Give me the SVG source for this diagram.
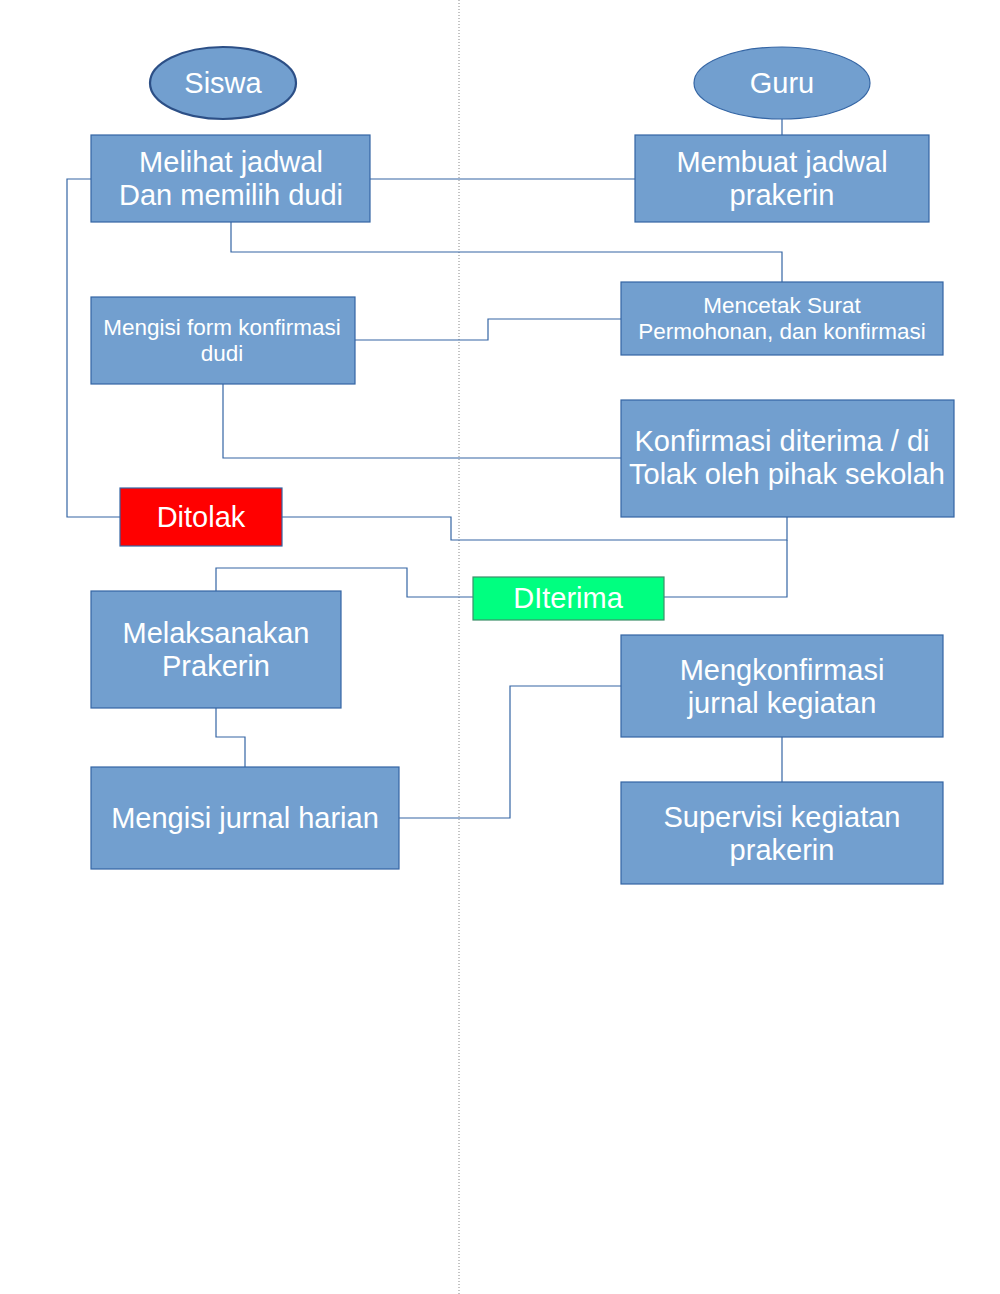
<svg xmlns="http://www.w3.org/2000/svg" width="1000" height="1294" viewBox="0 0 1000 1294">
<style>
.box{fill:#729fcf;stroke:#3465a4;stroke-width:1.2}
.t{font-family:"Liberation Sans",Arial,sans-serif;fill:#fff;text-anchor:middle;font-size:29px}
.s{font-size:22.5px}
.c{fill:none;stroke:#3465a4;stroke-width:1.2}
</style>
<rect width="1000" height="1294" fill="#fff"/>
<line x1="459" y1="0" x2="459" y2="1294" stroke="#888" stroke-width="1" stroke-dasharray="1,2"/>
<g id="connectors">
<path class="c" d="M782,119 V135"/>
<path class="c" d="M370,179 H635"/>
<path class="c" d="M231,222 V252 H782 V282"/>
<path class="c" d="M355,340 H488 V319 H621"/>
<path class="c" d="M223,384 V458 H621"/>
<path class="c" d="M91,179 H67 V517 H120"/>
<path class="c" d="M282,517 H451 V540 H787 V517"/>
<path class="c" d="M664,597 H787 V540"/>
<path class="c" d="M473,597 H407 V568 H216 V591"/>
<path class="c" d="M216,708 V737 H245 V767"/>
<path class="c" d="M399,818 H510 V686 H621"/>
<path class="c" d="M782,737 V782"/>
</g>
<g id="siswa"><ellipse cx="223" cy="83" rx="73" ry="36" fill="#729fcf" stroke="#2c4f86" stroke-width="2.2"/><text class="t" x="223" y="93">Siswa</text></g>
<g id="guru"><ellipse cx="782" cy="83" rx="88" ry="36" fill="#729fcf" stroke="#3465a4" stroke-width="1.2"/><text class="t" x="782" y="93">Guru</text></g>
<g id="melihat"><rect class="box" x="91" y="135" width="279" height="87"/><text class="t" x="231" y="172">Melihat jadwal</text><text class="t" x="231" y="205">Dan memilih dudi</text></g>
<g id="membuat"><rect class="box" x="635" y="135" width="294" height="87"/><text class="t" x="782" y="172">Membuat jadwal</text><text class="t" x="782" y="205">prakerin</text></g>
<g id="mengisi-form"><rect class="box" x="91" y="297" width="264" height="87"/><text class="t s" x="222" y="335">Mengisi form konfirmasi</text><text class="t s" x="222" y="361">dudi</text></g>
<g id="mencetak"><rect class="box" x="621" y="282" width="322" height="73"/><text class="t s" x="782" y="313">Mencetak Surat</text><text class="t s" x="782" y="339">Permohonan, dan konfirmasi</text></g>
<g id="konfirmasi"><rect class="box" x="621" y="400" width="333" height="117"/><text class="t" x="782" y="451">Konfirmasi diterima / di</text><text class="t" x="787" y="484">Tolak oleh pihak sekolah</text></g>
<g id="ditolak"><rect x="120" y="488" width="162" height="58" fill="#ff0000" stroke="#3465a4" stroke-width="1.2"/><text class="t" x="201" y="527">Ditolak</text></g>
<g id="diterima"><rect x="473" y="577" width="191" height="43" fill="#00ff80" stroke="#3d8f6a" stroke-width="1.2"/><text class="t" x="568" y="608">DIterima</text></g>
<g id="melaksanakan"><rect class="box" x="91" y="591" width="250" height="117"/><text class="t" x="216" y="643">Melaksanakan</text><text class="t" x="216" y="676">Prakerin</text></g>
<g id="mengisi-jurnal"><rect class="box" x="91" y="767" width="308" height="102"/><text class="t" x="245" y="828">Mengisi jurnal harian</text></g>
<g id="mengkonfirmasi"><rect class="box" x="621" y="635" width="322" height="102"/><text class="t" x="782" y="680">Mengkonfirmasi</text><text class="t" x="782" y="713">jurnal kegiatan</text></g>
<g id="supervisi"><rect class="box" x="621" y="782" width="322" height="102"/><text class="t" x="782" y="827">Supervisi kegiatan</text><text class="t" x="782" y="860">prakerin</text></g>
</svg>
